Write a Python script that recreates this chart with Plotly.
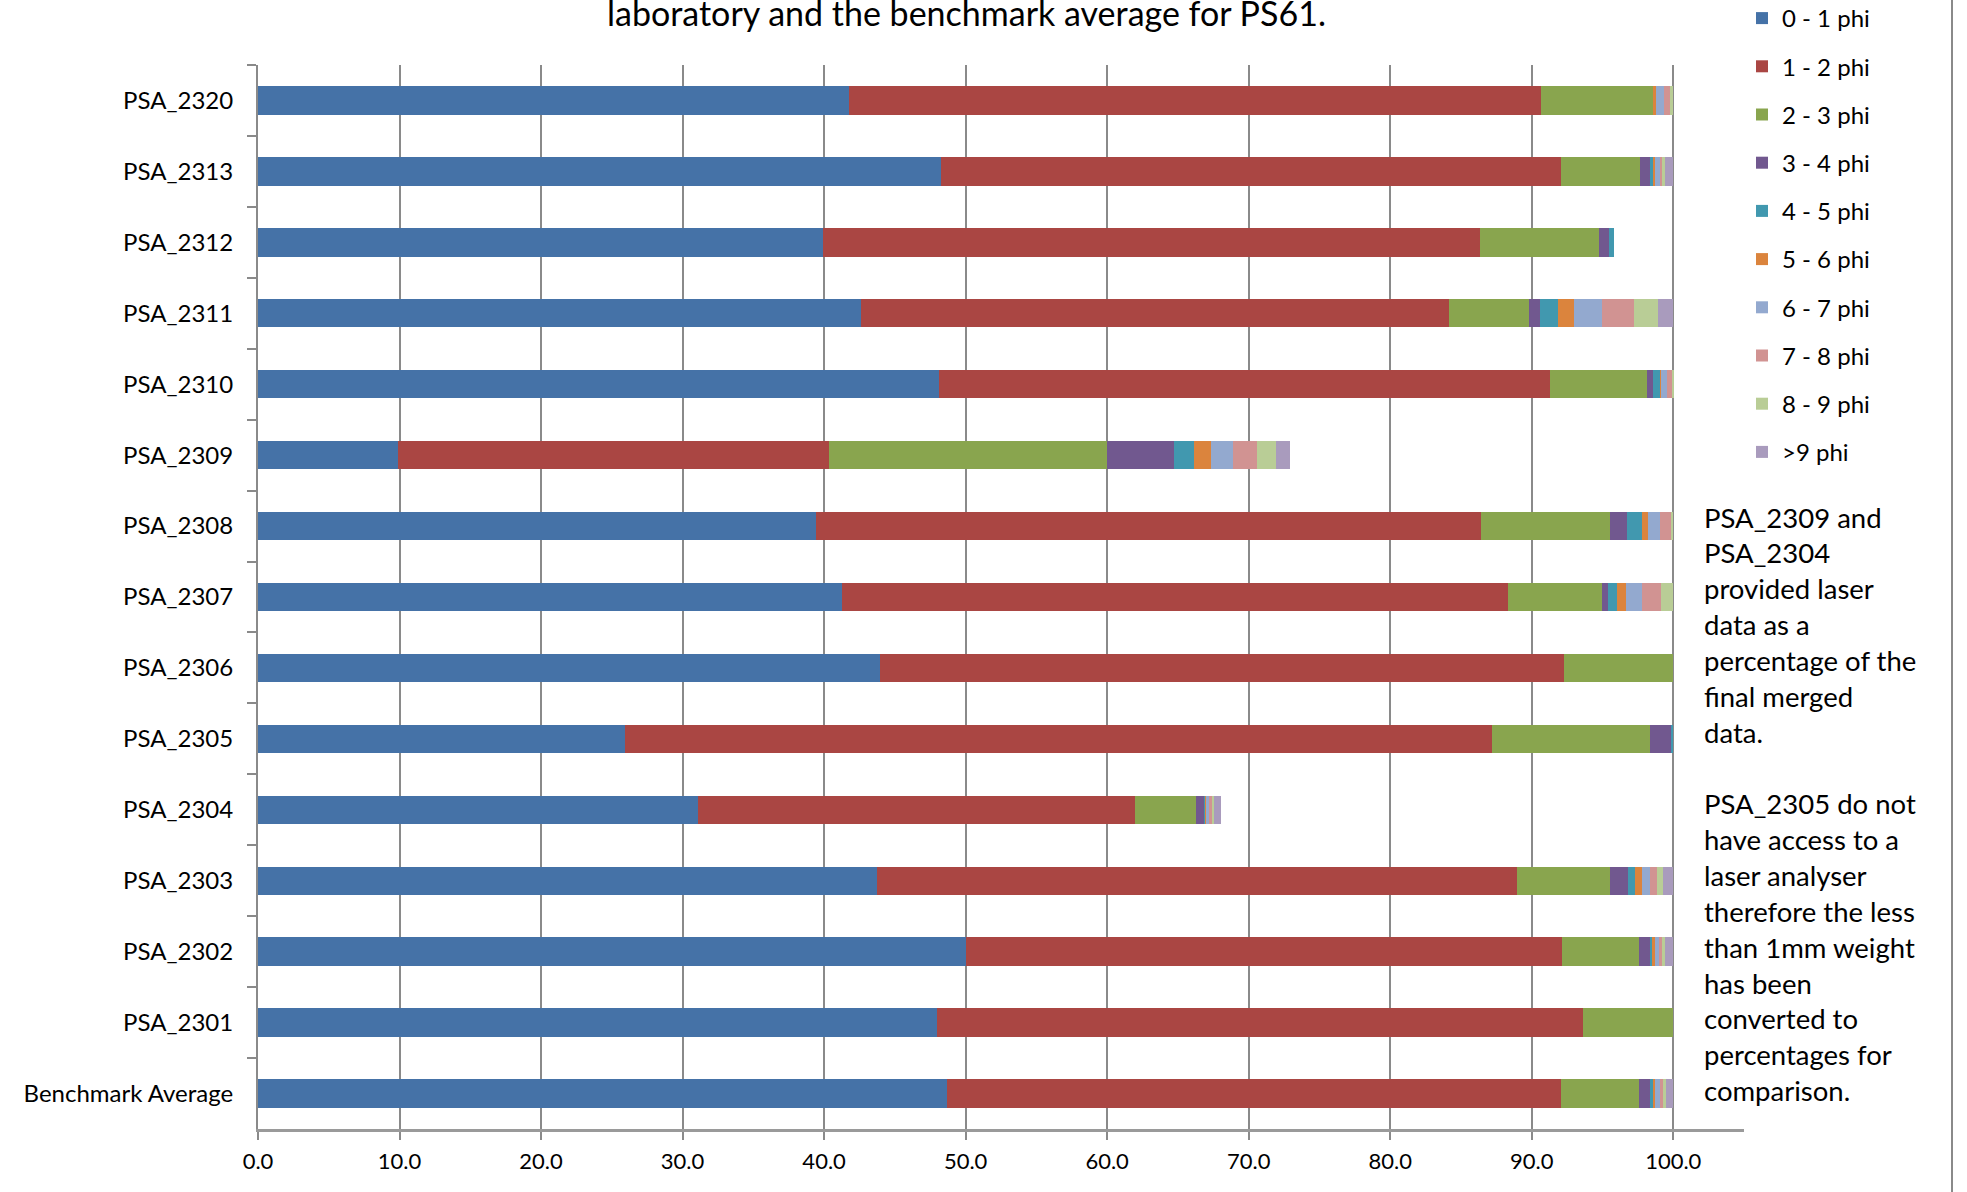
import plotly.graph_objects as go

# Sample labels, top to bottom
categories = [
    "PSA_2320", "PSA_2313", "PSA_2312", "PSA_2311", "PSA_2310",
    "PSA_2309", "PSA_2308", "PSA_2307", "PSA_2306", "PSA_2305",
    "PSA_2304", "PSA_2303", "PSA_2302", "PSA_2301", "Benchmark Average",
]

# Percentage in each phi size class
phi_0_1 = [41.79, 48.27, 39.93, 42.59, 48.09, 9.87, 39.40, 41.26, 43.92, 25.92, 31.07, 43.74, 50.04, 48.00, 48.71]
phi_1_2 = [48.88, 43.81, 46.43, 41.58, 43.22, 30.50, 47.03, 47.08, 48.38, 61.29, 30.89, 45.20, 42.12, 45.64, 43.33]
phi_2_3 = [7.92, 5.57, 8.39, 5.63, 6.85, 19.65, 9.10, 6.64, 7.70, 11.14, 4.31, 6.61, 5.39, 6.36, 5.56]
phi_3_4 = [0.00, 0.72, 0.68, 0.75, 0.38, 4.67, 1.22, 0.43, 0.00, 1.53, 0.59, 1.22, 0.78, 0.00, 0.77]
phi_4_5 = [0.00, 0.22, 0.35, 1.34, 0.54, 1.46, 1.01, 0.63, 0.00, 0.12, 0.11, 0.54, 0.19, 0.00, 0.19]
phi_5_6 = [0.16, 0.14, 0.00, 1.09, 0.05, 1.20, 0.49, 0.59, 0.00, 0.00, 0.08, 0.50, 0.16, 0.00, 0.17]
phi_6_7 = [0.61, 0.30, 0.00, 2.02, 0.42, 1.51, 0.81, 1.18, 0.00, 0.00, 0.13, 0.54, 0.28, 0.00, 0.30]
phi_7_8 = [0.43, 0.19, 0.00, 2.24, 0.43, 1.72, 0.83, 1.34, 0.00, 0.00, 0.22, 0.52, 0.26, 0.00, 0.24]
phi_8_9 = [0.21, 0.21, 0.00, 1.68, 0.07, 1.34, 0.11, 0.85, 0.00, 0.00, 0.16, 0.40, 0.19, 0.00, 0.21]
phi_9_up = [0.00, 0.57, 0.00, 1.08, 0.00, 1.01, 0.00, 0.00, 0.00, 0.00, 0.45, 0.73, 0.59, 0.00, 0.52]

series_names = ["0 - 1 phi", "1 - 2 phi", "2 - 3 phi", "3 - 4 phi", "4 - 5 phi",
                "5 - 6 phi", "6 - 7 phi", "7 - 8 phi", "8 - 9 phi", ">9 phi"]
series_values = [phi_0_1, phi_1_2, phi_2_3, phi_3_4, phi_4_5,
                 phi_5_6, phi_6_7, phi_7_8, phi_8_9, phi_9_up]
series_colors = ["#4572A7", "#AA4643", "#89A54E", "#71588F", "#4198AF",
                 "#DB843D", "#93A9CF", "#D19392", "#B9CD96", "#A99BBD"]

x_ticks = [0, 10, 20, 30, 40, 50, 60, 70, 80, 90, 100]

title_line = "laboratory and the benchmark average for PS61."
note_lines = [
    "PSA_2309 and", "PSA_2304", "provided laser", "data as a",
    "percentage of the", "final merged", "data.", "",
    "PSA_2305 do not", "have access to a", "laser analyser",
    "therefore the less", "than 1mm weight", "has been",
    "converted to", "percentages for", "comparison.",
]

FONT = "Lato, 'Open Sans', sans-serif"
W, H = 1967, 1192
PLOT_L, PLOT_R, PLOT_T, PLOT_B = 258, 1744, 65, 1129


def px_x(px):
    return (px - PLOT_L) / (PLOT_R - PLOT_L)


def px_y(py):
    return (PLOT_B - py) / (PLOT_B - PLOT_T)


fig = go.Figure()
for i, (name, vals, col) in enumerate(zip(series_names, series_values, series_colors)):
    fig.add_trace(go.Bar(
        y=categories, x=vals, name=name, orientation="h",
        marker=dict(color=col, line=dict(width=0)),
        legendgroup=f"g{i}",
    ))

annotations = [dict(
    text=title_line, x=px_x(966), y=px_y(13), xref="paper", yref="paper",
    xanchor="center", yanchor="middle", showarrow=False,
    font=dict(family=FONT, size=34, color="#000000"),
)]
for k, line in enumerate(note_lines):
    if not line:
        continue
    annotations.append(dict(
        text=line, x=px_x(1702), y=px_y(517 + 35.85 * k), xref="paper", yref="paper",
        xanchor="left", yanchor="middle", showarrow=False,
        font=dict(family=FONT, size=27.5, color="#000000"),
    ))

fig.update_layout(
    width=W, height=H, autosize=False,
    margin=dict(l=PLOT_L, r=W - PLOT_R, t=PLOT_T, b=H - PLOT_B, pad=0, autoexpand=False),
    paper_bgcolor="#ffffff", plot_bgcolor="#ffffff",
    barmode="stack", bargap=0.6,
    font=dict(family=FONT, color="#000000"),
    legend=dict(
        x=px_x(1742), y=px_y(-4), xanchor="left", yanchor="top",
        traceorder="grouped", tracegroupgap=14,
        font=dict(family=FONT, size=24, color="#000000"),
        bgcolor="rgba(0,0,0,0)",
    ),
    annotations=annotations,
    shapes=[dict(
        type="line", xref="paper", yref="paper",
        x0=px_x(1952), x1=px_x(1952), y0=px_y(H), y1=px_y(0),
        line=dict(color="#8a8a8a", width=2),
    )],
)

fig.update_xaxes(
    range=[0, 105], tickvals=x_ticks, tickformat=".1f",
    showgrid=True, gridcolor="#8a8a8a", gridwidth=1.5,
    zeroline=False, showline=True, linecolor="#9a9a9a", linewidth=3,
    ticks="outside", ticklen=8, tickcolor="#8a8a8a", tickwidth=1.5,
    ticklabelstandoff=3,
    tickfont=dict(family=FONT, size=22, color="#000000"),
)
fig.update_yaxes(
    autorange="reversed", showgrid=False, zeroline=False,
    showline=True, linecolor="#8a8a8a", linewidth=2,
    ticks="outside", tickson="boundaries", ticklen=9, tickcolor="#8a8a8a", tickwidth=1.5,
    ticklabelstandoff=18,
    tickfont=dict(family=FONT, size=24, color="#000000"),
)

fig.write_html("out.html")
